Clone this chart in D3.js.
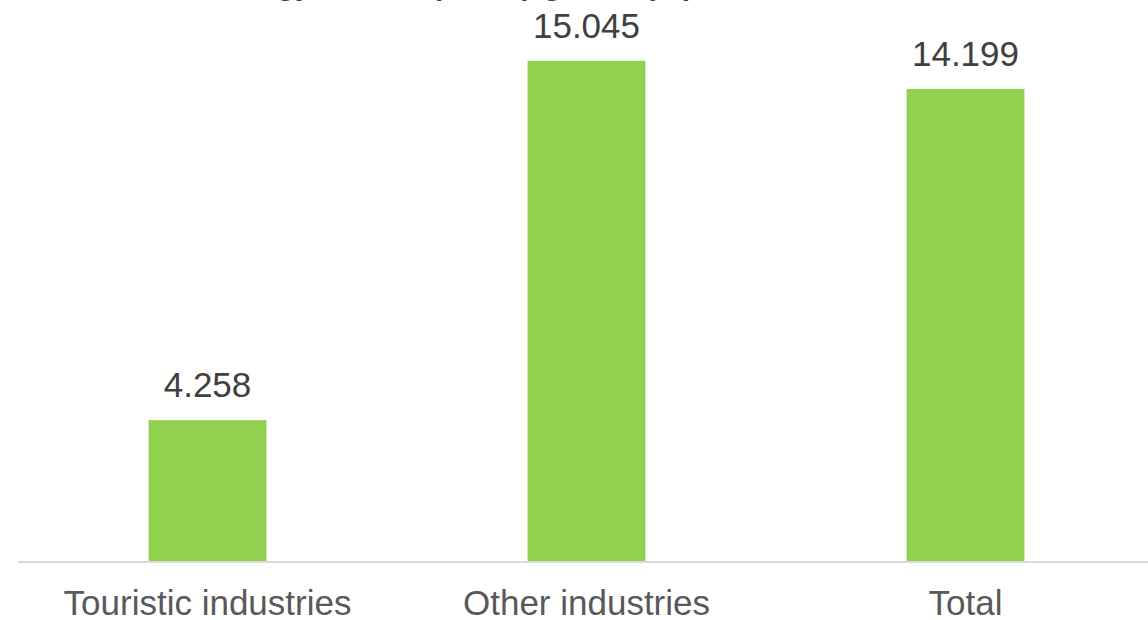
<!DOCTYPE html>
<html><head><meta charset="utf-8">
<script src="https://cdn.jsdelivr.net/npm/d3@7"></script>
<style>body{margin:0;background:#fff}svg{display:block}</style>
</head><body>
<script>
const categories = ["Touristic industries", "Other industries", "Total"];
const values = [4.258, 15.045, 14.199];
const valueLabels = ["4.258", "15.045", "14.199"];
const title = "Energy consumption (kgoe/empl.)";

const W = 1148, H = 620;
const svg = d3.select("body").append("svg").attr("width", W).attr("height", H);

const x = d3.scaleBand().domain(categories).range([18, 1155]).paddingInner(0.689).paddingOuter(0.3445);
const y = d3.scaleLinear().domain([0, 16]).range([562, 29]);

svg.append("text").attr("x", 210).attr("y", -5).attr("text-anchor", "start")
  .attr("font-family", "Liberation Sans, Arial, sans-serif").attr("font-weight", "bold")
  .attr("font-size", 30).attr("fill", "#404040").text(title);

svg.selectAll("rect.bar").data(values).enter().append("rect").attr("class", "bar")
  .attr("x", (d, i) => x(categories[i])).attr("width", x.bandwidth())
  .attr("y", d => y(d)).attr("height", d => y(0) - y(d)).attr("fill", "#92d050");

svg.selectAll("text.val").data(values).enter().append("text").attr("class", "val")
  .attr("x", (d, i) => x(categories[i]) + x.bandwidth() / 2).attr("y", d => y(d) - 23)
  .attr("text-anchor", "middle").attr("font-family", "Liberation Sans, Arial, sans-serif")
  .attr("font-size", 35).attr("fill", "#404040").text((d, i) => valueLabels[i]);

const axis = svg.append("g").attr("transform", `translate(0,${y(0)})`)
  .call(d3.axisBottom(x).tickSize(0).tickPadding(28));
axis.select(".domain").attr("stroke", "#d9d9d9").attr("stroke-width", 2).attr("d", "M18,0H1148");
axis.selectAll("text").attr("font-family", "Liberation Sans, Arial, sans-serif")
  .attr("font-size", 35).attr("fill", "#595959").attr("dy", "0.71em");
</script>
</body></html>
